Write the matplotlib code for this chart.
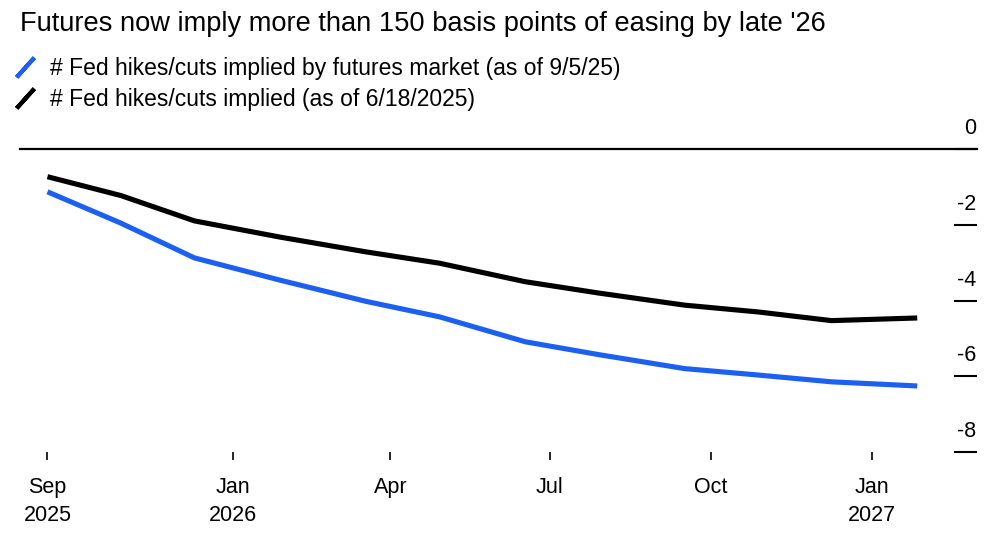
import pandas as pd
import matplotlib
matplotlib.use('Agg')
import matplotlib.pyplot as plt
import matplotlib.transforms as mtransforms
from matplotlib.lines import Line2D

plt.rcParams['font.family'] = ['Liberation Sans', 'DejaVu Sans']

# FOMC meeting dates covered by the futures curve
meeting_dates = pd.to_datetime([
    '2025-09-17', '2025-10-29', '2025-12-10', '2026-01-28', '2026-03-18', '2026-04-29',
    '2026-06-17', '2026-07-29', '2026-09-16', '2026-10-28', '2026-12-09', '2027-01-27',
])
# cumulative number of hikes/cuts implied
implied_sep = [-1.12, -1.95, -2.87, -3.46, -4.02, -4.43, -5.09, -5.43, -5.80, -5.97, -6.15, -6.26]
implied_jun = [-0.72, -1.22, -1.89, -2.32, -2.71, -3.01, -3.50, -3.80, -4.12, -4.30, -4.53, -4.46]

label_sep = '# Fed hikes/cuts implied by futures market (as of 9/5/25)'
label_jun = '# Fed hikes/cuts implied (as of 6/18/2025)'

tick_dates = pd.to_datetime(['2025-09-17', '2026-01-01', '2026-04-01', '2026-07-01', '2026-10-01', '2027-01-01'])
tick_labels = ['Sep\n2025', 'Jan\n2026', 'Apr', 'Jul', 'Oct', 'Jan\n2027']
y_ticks = [0, -2, -4, -6, -8]

c_blue = '#1c60f2'
c_black = '#000000'

W, H = 1000, 545
fig = plt.figure(figsize=(W / 100, H / 100), dpi=100)
ax = fig.add_axes([20 / W, 1 - 451.7 / H, 957 / W, (451.7 - 149.5) / H])

ax.plot(meeting_dates, implied_sep, color=c_blue, linewidth=3.7, solid_capstyle='butt')
ax.plot(meeting_dates, implied_jun, color=c_black, linewidth=3.7, solid_capstyle='butt')

# zero line across the full width
ax.axhline(0, color='black', linewidth=1.6, clip_on=False)

x0 = meeting_dates[0] - pd.Timedelta(days=15.7)
ax.set_xlim(x0, x0 + pd.Timedelta(days=957 / 1.75))
ax.set_ylim(-8, 0)

for s in ax.spines.values():
    s.set_visible(False)

ax.set_xticks(tick_dates)
ax.set_xticklabels(tick_labels, fontsize=15.5, linespacing=1.45)
ax.tick_params(axis='x', direction='out', length=6, width=1.2, pad=12, color='black')

ax.yaxis.tick_right()
ax.set_yticks(y_ticks)
ax.set_yticklabels([])
ax.tick_params(axis='y', direction='in', length=16.5, width=1.5, color='black')

# y labels sit above their tick marks
offset = mtransforms.ScaledTranslation(-1 / 100, 20.5 / 100, fig.dpi_scale_trans)
trans = mtransforms.blended_transform_factory(ax.transAxes, ax.transData) + offset
for v in y_ticks:
    ax.text(1.0, v, str(v), transform=trans, ha='right', va='center', fontsize=15.5)

fig.text(20 / W, 1 - 24 / H, "Futures now imply more than 150 basis points of easing by late '26",
         fontsize=19.6, ha='left', va='center')

handles = [
    Line2D([], [], color=c_blue, linestyle='none', marker=(2, 2, -42), markersize=19, markeredgewidth=3.0),
    Line2D([], [], color=c_black, linestyle='none', marker=(2, 2, -42), markersize=19, markeredgewidth=3.0),
]
fig.legend(handles, [label_sep, label_jun], loc='upper left', bbox_to_anchor=(10 / W, 1 - 57 / H),
           frameon=False, fontsize=16.5, handlelength=1.3, handletextpad=0.45, labelspacing=0.35,
           borderaxespad=0, borderpad=0)

fig.savefig('out.png', dpi=100, facecolor='white')
